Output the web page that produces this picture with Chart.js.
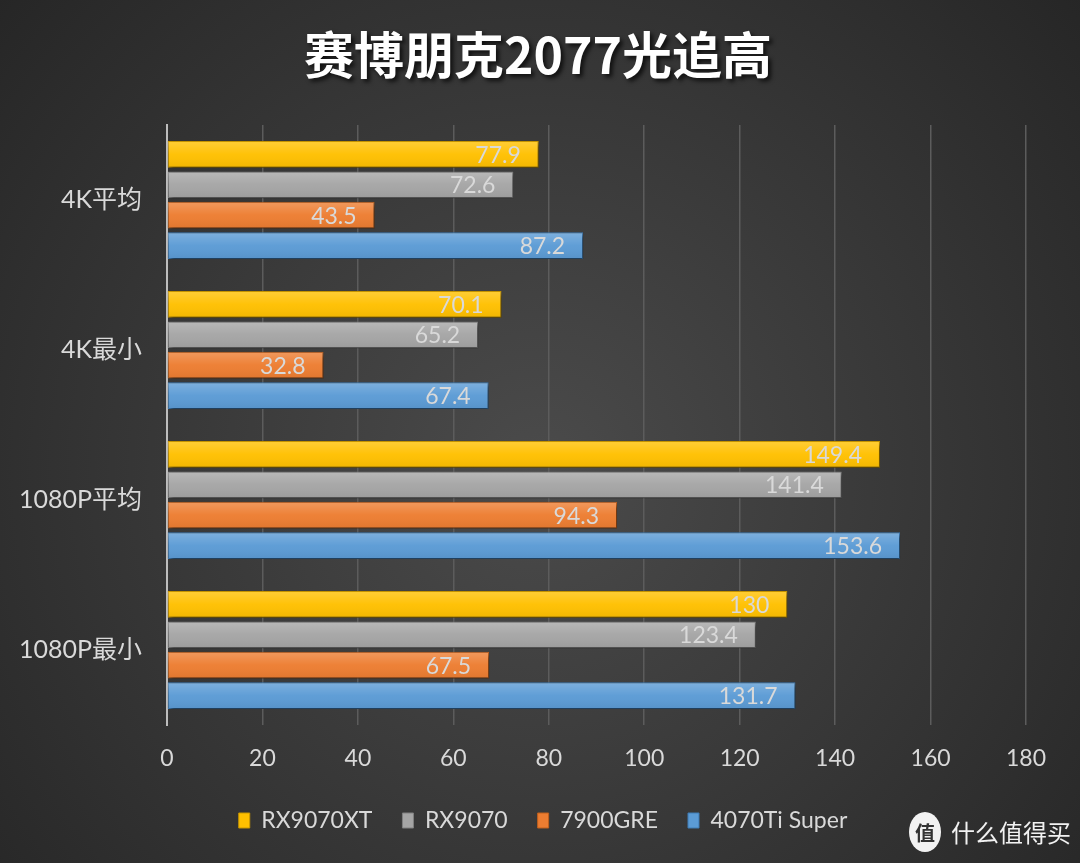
<!DOCTYPE html>
<html>
<head>
<meta charset="utf-8">
<script src="https://cdn.jsdelivr.net/npm/chart.js@4/dist/chart.umd.min.js"></script>
<style>
  html, body { margin: 0; padding: 0; background: #333; }
  canvas { display: block; }
</style>
</head>
<body>
<canvas id="chart" width="1080" height="863"></canvas>
<script>
// --- data ---
const categories = ['4K平均', '4K最小', '1080P平均', '1080P最小'];
const seriesNames = ['RX9070XT', 'RX9070', '7900GRE', '4070Ti Super'];
const rx9070xt = [77.9, 70.1, 149.4, 130];
const rx9070 = [72.6, 65.2, 141.4, 123.4];
const gre7900 = [43.5, 32.8, 94.3, 67.5];
const ti4070super = [87.2, 67.4, 153.6, 131.7];
const xMax = 180;
const xStep = 20;

const titleText = '赛博朋克2077光追高';
const FONT = 'Lato, "Noto Sans CJK SC", sans-serif';
const TEXT = '#d9d9d9';

// background, title, watermark
const decor = {
    id: 'decor',
    afterLayout(chart) {
        // legend sits a bit right of centre in the original
        chart.legend.left += 30;
        chart.legend.right += 30;
    },
    beforeDraw(chart) {
        const { ctx, width, height } = chart;
        const g = ctx.createRadialGradient(540, 470, 0, 540, 470, 720);
        g.addColorStop(0, '#4b4b4b');
        g.addColorStop(1, '#262626');
        ctx.save();
        ctx.fillStyle = g;
        ctx.fillRect(0, 0, width, height);
        ctx.restore();
    },
    afterDraw(chart) {
        const { ctx } = chart;
        ctx.save();
        // title
        ctx.font = 'bold 50px "Noto Sans CJK SC", sans-serif';
        ctx.textAlign = 'center';
        ctx.textBaseline = 'middle';
        ctx.shadowColor = 'rgba(0,0,0,0.7)';
        ctx.shadowOffsetX = 3;
        ctx.shadowOffsetY = 3;
        ctx.shadowBlur = 4;
        ctx.fillStyle = '#ffffff';
        ctx.fillText(titleText, 538, 55);
        ctx.shadowColor = 'transparent';

        // watermark
        ctx.fillStyle = '#f2f2f2';
        ctx.beginPath();
        ctx.ellipse(925, 832, 16, 20, 0, 0, Math.PI * 2);
        ctx.fill();
        ctx.fillStyle = '#333';
        ctx.font = 'bold 20px "Noto Sans CJK SC", sans-serif';
        ctx.fillText('值', 925, 833);
        ctx.fillStyle = '#f2f2f2';
        ctx.textAlign = 'left';
        ctx.font = '24px "Noto Sans CJK SC", sans-serif';
        ctx.fillText('什么值得买', 951, 833);
        ctx.restore();
    }
};

// bar shadow, gloss and value labels
const barFx = {
    id: 'barFx',
    beforeDatasetsDraw(chart) {
        const ctx = chart.ctx;
        ctx.save();
        ctx.shadowColor = 'rgba(0,0,0,0.55)';
        ctx.shadowOffsetX = 2;
        ctx.shadowOffsetY = 3;
        ctx.shadowBlur = 4;
    },
    afterDatasetsDraw(chart) {
        const ctx = chart.ctx;
        ctx.restore();
        ctx.save();
        chart.data.datasets.forEach((ds, i) => {
            chart.getDatasetMeta(i).data.forEach((bar, j) => {
                const top = bar.y - bar.height / 2;
                const g = ctx.createLinearGradient(0, top, 0, top + bar.height);
                g.addColorStop(0, 'rgba(255,255,255,0.22)');
                g.addColorStop(0.5, 'rgba(255,255,255,0.03)');
                g.addColorStop(1, 'rgba(0,0,0,0.06)');
                ctx.fillStyle = g;
                ctx.fillRect(bar.base, top + 1, bar.x - bar.base - 1, bar.height - 2);

                ctx.fillStyle = TEXT;
                ctx.font = '23px ' + FONT;
                ctx.textAlign = 'right';
                ctx.textBaseline = 'middle';
                ctx.fillText(String(ds.data[j]), bar.x - 18, bar.y + 1);
            });
        });
        ctx.restore();
    }
};

const colors = [
    { fill: '#FFC000', line: '#c99700' },
    { fill: '#A5A5A5', line: '#808080' },
    { fill: '#ED7D31', line: '#c0601c' },
    { fill: '#5B9BD5', line: '#3f7cb5' }
];
const values = [rx9070xt, rx9070, gre7900, ti4070super];

new Chart(document.getElementById('chart'), {
    type: 'bar',
    data: {
        labels: categories,
        datasets: seriesNames.map((name, i) => ({
            label: name,
            data: values[i],
            backgroundColor: colors[i].fill,
            borderColor: colors[i].line,
            borderWidth: 1,
            borderSkipped: false,
            categoryPercentage: 0.81,
            barPercentage: 0.88
        }))
    },
    options: {
        indexAxis: 'y',
        responsive: false,
        animation: false,
        layout: { padding: { top: 125, left: 0, right: 54, bottom: 21 } },
        plugins: {
            tooltip: { enabled: false },
            legend: {
                position: 'bottom',
                labels: {
                    color: TEXT,
                    font: { family: FONT, size: 23 },
                    boxWidth: 11,
                    boxHeight: 15,
                    padding: 30
                }
            }
        },
        scales: {
            x: {
                min: 0,
                max: xMax,
                ticks: { stepSize: xStep, color: TEXT, font: { family: FONT, size: 23 }, padding: 20 },
                grid: { color: '#5c5c5c', lineWidth: 1.5, drawTicks: false },
                border: { display: false },
                afterFit(scale) { scale.height = 54; }
            },
            y: {
                ticks: { color: TEXT, font: { family: FONT, size: 25 }, padding: 25 },
                grid: { display: false, drawTicks: false },
                border: { display: true, color: '#bdbdbd', width: 2 },
                afterFit(scale) { scale.width = 167; }
            }
        }
    },
    plugins: [decor, barFx]
});
</script>
</body>
</html>
